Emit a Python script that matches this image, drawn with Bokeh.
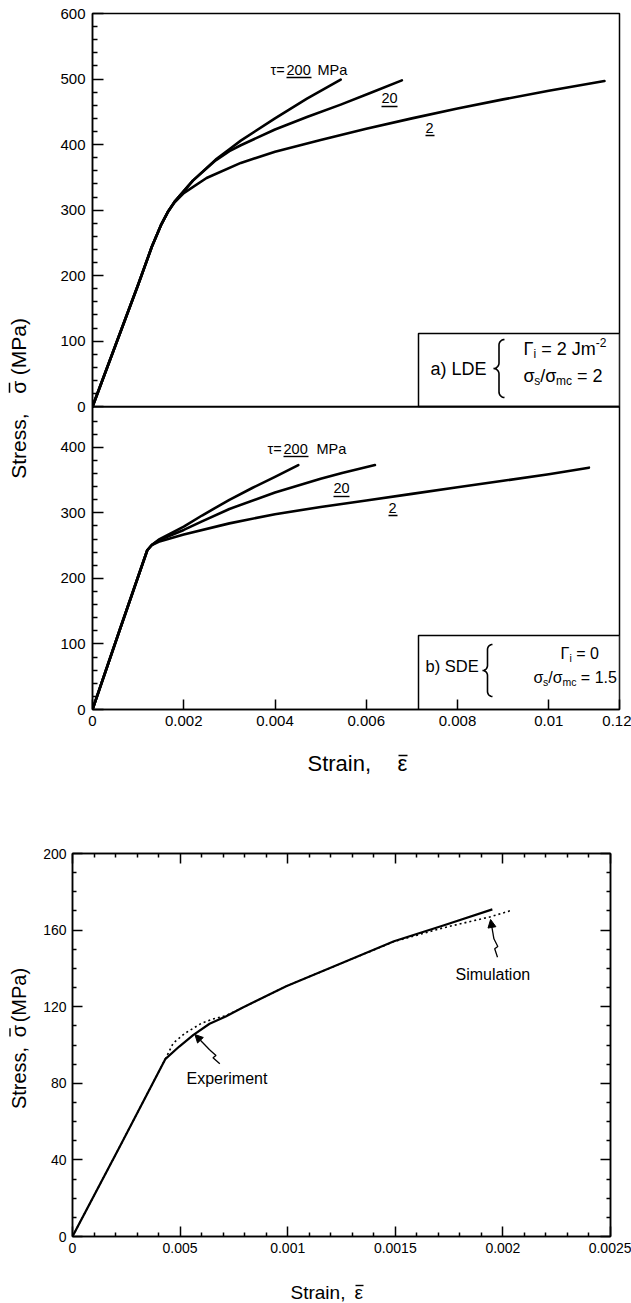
import numpy as np
from bokeh.plotting import figure
from bokeh.layouts import column, row
from bokeh.models import Range1d, FixedTicker, LinearAxis, Arrow, NormalHead, Span
from bokeh.embed import file_html
from bokeh.resources import INLINE
from bokeh.core.properties import value

FONT = "Liberation Sans"

# ---------------- data: panel (a) LDE ----------------
a_tau200_strain = [0, 0.0005, 0.0010, 0.0013, 0.0015, 0.00165, 0.0018, 0.0022, 0.0027, 0.0030, 0.00325, 0.0040, 0.0047, 0.00544]
a_tau200_stress = [0, 93, 186, 244, 277, 297, 313, 345, 377, 393, 406, 440, 470, 499]
a_tau20_strain = [0, 0.0005, 0.0010, 0.0013, 0.0015, 0.00165, 0.0018, 0.0022, 0.0027, 0.0030, 0.00325, 0.0040, 0.0047, 0.00544, 0.0061, 0.00678]
a_tau20_stress = [0, 93, 186, 244, 277, 297, 313, 345, 376, 390, 399, 423, 442, 461, 479, 498]
a_tau2_strain = [0, 0.0005, 0.0010, 0.0013, 0.0015, 0.00165, 0.0018, 0.0020, 0.0025, 0.00325, 0.0040, 0.0050, 0.0060, 0.0070, 0.0080, 0.0090, 0.0100, 0.01122]
a_tau2_stress = [0, 93, 186, 244, 277, 297, 312, 326, 349, 372, 389, 407, 424, 440, 455, 469, 482, 497]

# ---------------- data: panel (b) SDE ----------------
b_tau200_strain = [0, 0.0006, 0.0012, 0.0013, 0.00145, 0.0020, 0.0024, 0.0030, 0.0035, 0.0040, 0.00451]
b_tau200_stress = [0, 122, 243, 251, 259, 279, 296, 320, 338, 355, 373]
b_tau20_strain = [0, 0.0006, 0.0012, 0.0013, 0.00145, 0.0020, 0.0024, 0.0030, 0.0040, 0.0050, 0.00547, 0.00619]
b_tau20_stress = [0, 122, 243, 251, 258, 274, 287, 306, 331, 352, 361, 373]
b_tau2_strain = [0, 0.0006, 0.0012, 0.0013, 0.00145, 0.0020, 0.0030, 0.0040, 0.0050, 0.0060, 0.0070, 0.0080, 0.0090, 0.0100, 0.01088]
b_tau2_stress = [0, 122, 243, 251, 256, 267, 284, 298, 309, 319, 329, 339, 349, 359, 369]

# ---------------- data: panel (c) experiment vs simulation ----------------
exp_strain = [0, 0.00022, 0.000431, 0.000496, 0.000562, 0.000637, 0.000712, 0.000787, 0.000993, 0.001255, 0.001494, 0.001723, 0.001951]
exp_stress = [0, 47, 92.6, 99.2, 105.3, 111.1, 114.9, 119.3, 130.7, 142.9, 154.2, 162.4, 170.8]
sim_strain = [0, 0.00022, 0.000431, 0.000468, 0.000524, 0.0006, 0.00065, 0.000712, 0.000787, 0.000993, 0.001255, 0.001494, 0.001723, 0.001944, 0.002045]
sim_stress = [0, 47, 92.6, 101, 106.2, 111.4, 113.5, 115.3, 119.3, 130.7, 142.9, 154.0, 161.2, 167.0, 170.5]

# ---------------- ticks ----------------
ab_x_ticks = [0, 0.002, 0.004, 0.006, 0.008, 0.010, 0.01155]
ab_x_labels = ["0", "0.002", "0.004", "0.006", "0.008", "0.01", "0.12"]
a_y_ticks = [0, 100, 200, 300, 400, 500, 600]
b_y_ticks = [0, 100, 200, 300, 400]
c_x_ticks = [0, 0.0005, 0.001, 0.0015, 0.002, 0.0025]
c_x_labels = ["0", "0.005", "0.001", "0.0015", "0.002", "0.0025"]
c_y_ticks = [0, 40, 80, 120, 160, 200]

X_END = 0.01155
B_TOP = 462
A_TOP = 600

# approximate advance widths (em) used only to lay out multi-piece labels
EM = {'0': .556, '1': .556, '2': .556, '5': .556, '.': .278, ' ': .278, '=': .584, '/': .278,
      '-': .333, 'J': .5, 'm': .833, 'c': .5, 's': .5, 'i': .222, '\u0393': .556, '\u03c3': .6}


def twidth(txt, size):
    return sum(EM.get(ch, .556) for ch in txt) * size


def bare_fig(w, h):
    f = figure(width=w, height=h, x_range=Range1d(0, w), y_range=Range1d(0, h), min_border=0,
               toolbar_location=None, output_backend="svg", x_axis_location=None, y_axis_location=None)
    f.grid.visible = False
    f.outline_line_color = None
    return f


def put(p, px, py, txt, size, fx, fy, align="left", angle=0.0):
    p.text(x=[fx(px)], y=[fy(py)], text=[txt], text_font=value(FONT), text_font_size=f"{size}px",
           text_align=align, text_baseline="middle", text_color="black", angle=angle)


def seg(p, x0, y0, x1, y1, fx, fy, lw=1.4):
    p.segment(x0=[fx(x0)], y0=[fy(y0)], x1=[fx(x1)], y1=[fy(y1)], line_color="black", line_width=lw)


def seq(p, px, py, pieces, fx, fy):
    x = px
    for txt, size, dy in pieces:
        core = txt.lstrip(" ")
        x += (len(txt) - len(core)) * EM[' '] * size
        put(p, x, py + dy, core, size, fx, fy)
        x += twidth(core, size)


def brace(p, tipx, tipy, h, w, fx, fy):
    r = w / 2.0
    t = np.linspace(np.pi / 2, np.pi, 10)
    u1, v1 = w + r * np.cos(t), (h - r) + r * np.sin(t)
    t = np.linspace(0, -np.pi / 2, 10)
    u2, v2 = r * np.cos(t), r + r * np.sin(t)
    t = np.linspace(np.pi / 2, 0, 10)
    u3, v3 = r * np.cos(t), -r + r * np.sin(t)
    t = np.linspace(np.pi, 1.5 * np.pi, 10)
    u4, v4 = w + r * np.cos(t), -(h - r) + r * np.sin(t)
    u = np.concatenate([u1, u2, u3, u4])
    v = np.concatenate([v1, v2, v3, v4])
    p.line([fx(tipx + a) for a in u], [fy(tipy - b) for b in v], line_color="black", line_width=1.6)


# ================= panels (a)+(b) in one figure (page y 0..739) =================
pab = figure(width=591, height=739, x_range=Range1d(0, X_END), y_range=Range1d(0, B_TOP + A_TOP),
             min_border_left=52, min_border_right=12, min_border_top=13, min_border_bottom=30,
             toolbar_location=None, output_backend="svg")
pab.extra_y_ranges = {"a": Range1d(-B_TOP, A_TOP)}
pab.grid.visible = False
pab.outline_line_color = "black"
pab.outline_line_width = 1.5

y_major = list(b_y_ticks) + [B_TOP + t for t in a_y_ticks]
y_labels = {float(t): str(t) for t in b_y_ticks}
y_labels.update({float(B_TOP + t): str(t) for t in a_y_ticks})
y_minor = [t for t in range(20, 460, 20) if t % 100 != 0] + [B_TOP + t for t in range(20, 600, 20) if t % 100 != 0]
ya = pab.yaxis[0]
ya.ticker = FixedTicker(ticks=y_major, minor_ticks=y_minor)
ya.major_label_overrides = y_labels
ya.major_tick_in = 11
ya.major_tick_out = 0
ya.minor_tick_in = 5
ya.minor_tick_out = 0
ya.major_label_standoff = 7
ya.major_label_text_font = FONT
ya.major_label_text_font_size = "15px"
ya.major_label_text_color = "black"
ya.axis_line_width = 1.5
ya.major_tick_line_width = 1.5
ya.minor_tick_line_width = 1.5

xa = pab.xaxis[0]
xa.ticker = FixedTicker(ticks=ab_x_ticks)
xa.major_label_overrides = {float(t): l for t, l in zip(ab_x_ticks, ab_x_labels)}
xa.major_tick_in = 10
xa.major_tick_out = 0
xa.minor_tick_line_color = None
xa.major_label_standoff = 6
xa.major_label_text_font = FONT
xa.major_label_text_font_size = "15px"
xa.major_label_text_color = "black"
xa.axis_line_width = 1.5
xa.major_tick_line_width = 1.5

pab.add_layout(Span(location=B_TOP, dimension="width", line_color="black", line_width=2))

LW = 2.6
for xs, ys in [(a_tau200_strain, a_tau200_stress), (a_tau20_strain, a_tau20_stress), (a_tau2_strain, a_tau2_stress)]:
    pab.line(xs, ys, y_range_name="a", line_color="black", line_width=LW, line_join="round", line_cap="round")
for xs, ys in [(b_tau200_strain, b_tau200_stress), (b_tau20_strain, b_tau20_stress), (b_tau2_strain, b_tau2_stress)]:
    pab.line(xs, ys, line_color="black", line_width=LW, line_join="round", line_cap="round")


def abx(px):
    return (px - 92) / 527 * X_END


def aby(py):
    return (709 - py) / 696 * (B_TOP + A_TOP)


# curve labels, panel (a)
TS = 14.5
put(pab, 270, 69, "\u03c4=", TS, abx, aby)
put(pab, 286, 69, "200", TS, abx, aby)
put(pab, 317, 69, "MPa", TS, abx, aby)
seg(pab, 286, 77, 311, 77, abx, aby)
put(pab, 381, 97, "20", TS, abx, aby)
seg(pab, 381, 106, 397, 106, abx, aby)
put(pab, 425, 127, "2", TS, abx, aby)
seg(pab, 425, 135, 434, 135, abx, aby)

# curve labels, panel (b)
put(pab, 267, 448, "\u03c4=", TS, abx, aby)
put(pab, 283, 448, "200", TS, abx, aby)
put(pab, 316, 448, "MPa", TS, abx, aby)
seg(pab, 283, 456, 308, 456, abx, aby)
put(pab, 333, 487, "20", TS, abx, aby)
seg(pab, 333, 496, 349, 496, abx, aby)
put(pab, 388, 507, "2", TS, abx, aby)
seg(pab, 388, 515, 397, 515, abx, aby)

# parameter boxes
pab.quad(left=[abx(418)], right=[X_END], bottom=[aby(406)], top=[aby(333)],
         fill_color="white", line_color="black", line_width=1.5)
pab.quad(left=[abx(418)], right=[X_END], bottom=[aby(709)], top=[aby(635)],
         fill_color="white", line_color="black", line_width=1.5)

put(pab, 430, 368, "a) LDE", 18, abx, aby)
brace(pab, 493, 368, 29, 11, abx, aby)
seq(pab, 523, 348, [("\u0393", 18, 0), ("i", 12, 5), (" = 2 Jm", 18, 0), ("-2", 12, -6)], abx, aby)
seq(pab, 523, 375, [("\u03c3", 18, 0), ("s", 12, 5), ("/", 18, 0), ("\u03c3", 18, 0), ("mc", 12, 5), (" = 2", 18, 0)], abx, aby)

put(pab, 425, 665, "b) SDE", 16.5, abx, aby)
brace(pab, 482, 670, 26, 10, abx, aby)
seq(pab, 560, 653, [("\u0393", 16, 0), ("i", 10.5, 4.5), (" = 0", 16, 0)], abx, aby)
seq(pab, 533, 677, [("\u03c3", 16, 0), ("s", 10.5, 4.5), ("/", 16, 0), ("\u03c3", 16, 0), ("mc", 10.5, 4.5), (" = 1.5", 16, 0)], abx, aby)

# left strip: y title of (a)+(b), rotated, with an overbar on sigma
strip1 = bare_fig(40, 739)


def s1x(px):
    return px


def s1y(py):
    return 739 - py


YT = 21
y0 = 494
put(strip1, 18, y0, "Stress,", YT, s1x, s1y, angle=np.pi / 2)
ys_sig = y0 - twidth("Stress,", YT) - 11
put(strip1, 18, ys_sig, "\u03c3", YT, s1x, s1y, angle=np.pi / 2)
seg(strip1, 9, ys_sig - 1, 9, ys_sig - twidth("\u03c3", YT) + 1, s1x, s1y, lw=1.5)
put(strip1, 18, ys_sig - twidth("\u03c3", YT) - 7, "(MPa)", YT, s1x, s1y, angle=np.pi / 2)

# x title strip under (b): page y 739..809
xt1 = bare_fig(631, 70)


def t1x(px):
    return px


def t1y(py):
    return 809 - py


put(xt1, 307, 763, "Strain,", 22, t1x, t1y)
put(xt1, 397, 763, "\u03b5", 22, t1x, t1y)
seg(xt1, 398, 755, 407, 755, t1x, t1y, lw=1.5)

# ================= panel (c): page y 809..1266 =================
pc = figure(width=591, height=457, x_range=Range1d(0, 0.0025), y_range=Range1d(0, 200),
            min_border_left=32, min_border_right=21, min_border_top=44, min_border_bottom=30,
            toolbar_location=None, output_backend="svg")
pc.grid.visible = False
pc.outline_line_color = "black"
pc.outline_line_width = 1.5

cx_minor = [i * 0.0001 for i in range(1, 25) if i % 5 != 0]
cy_minor = [i * 10 for i in range(1, 20) if i % 4 != 0]
cxt = FixedTicker(ticks=c_x_ticks, minor_ticks=cx_minor)
cyt = FixedTicker(ticks=c_y_ticks, minor_ticks=cy_minor)


def style_c_axis(ax, ticker, show):
    ax.ticker = ticker
    ax.major_tick_in = 10
    ax.major_tick_out = 0
    ax.minor_tick_in = 4
    ax.minor_tick_out = 0
    ax.axis_line_width = 1.5
    ax.major_tick_line_width = 1.5
    ax.minor_tick_line_width = 1.5
    ax.major_label_text_font = FONT
    if show:
        ax.major_label_text_font_size = "14px"
        ax.major_label_text_color = "black"
        ax.major_label_standoff = 6
    else:
        ax.major_label_text_font_size = "1px"
        ax.major_label_text_color = None
        ax.major_label_standoff = 0


style_c_axis(pc.xaxis[0], cxt, True)
pc.xaxis[0].major_label_overrides = {float(t): l for t, l in zip(c_x_ticks, c_x_labels)}
style_c_axis(pc.yaxis[0], cyt, True)

top_ax = LinearAxis()
style_c_axis(top_ax, cxt, False)
pc.add_layout(top_ax, "above")
right_ax = LinearAxis()
style_c_axis(right_ax, cyt, False)
pc.add_layout(right_ax, "right")

pc.line(sim_strain, sim_stress, line_color="black", line_width=1.6, line_dash="2 3")
pc.line(exp_strain, exp_stress, line_color="black", line_width=2.2, line_join="round")


def cx(px):
    return (px - 72) / 538 * 0.0025


def cy(py):
    return (1236 - py) / 383 * 200


put(pc, 455, 974, "Simulation", 16, cx, cy)
put(pc, 186, 1078, "Experiment", 16, cx, cy)

exp_arrow_px = [(219.3, 1063.3), (212.5, 1057.3), (215.5, 1055.0), (209.3, 1049.5), (194.4, 1034.0)]
sim_arrow_px = [(497.0, 956.7), (494.2, 948.3), (497.3, 946.0), (493.4, 938.3), (490.1, 919.0)]
for pts in (exp_arrow_px, sim_arrow_px):
    pc.line([cx(a) for a, b in pts[:-1]], [cy(b) for a, b in pts[:-1]], line_color="black", line_width=1.3)
    pc.add_layout(Arrow(end=NormalHead(size=8, fill_color="black", line_color="black"),
                        x_start=cx(pts[-2][0]), y_start=cy(pts[-2][1]),
                        x_end=cx(pts[-1][0]), y_end=cy(pts[-1][1]),
                        line_color="black", line_width=1.3))

# left strip for panel (c) y title: page y 809..1266
strip2 = bare_fig(40, 457)


def s2x(px):
    return px


def s2y(py):
    return 1266 - py


CT = 20
y0 = 1114
put(strip2, 18, y0, "Stress,", CT, s2x, s2y, angle=np.pi / 2)
ys_sig = y0 - twidth("Stress,", CT) - 10
put(strip2, 18, ys_sig, "\u03c3", CT, s2x, s2y, angle=np.pi / 2)
seg(strip2, 9.5, ys_sig - 1, 9.5, ys_sig - twidth("\u03c3", CT) + 1, s2x, s2y, lw=1.4)
put(strip2, 18, ys_sig - twidth("\u03c3", CT) - 6, "(MPa)", CT, s2x, s2y, angle=np.pi / 2)

# x title strip under (c): page y 1266..1303
xt2 = bare_fig(631, 37)


def t2x(px):
    return px


def t2y(py):
    return 1303 - py


put(xt2, 290, 1292, "Strain,", 19, t2x, t2y)
put(xt2, 354, 1292, "\u03b5", 19, t2x, t2y)
seg(xt2, 355, 1285, 363, 1285, t2x, t2y, lw=1.4)

layout = column(row(strip1, pab), xt1, row(strip2, pc), xt2)
open("out.html", "w").write(file_html(layout, INLINE))
